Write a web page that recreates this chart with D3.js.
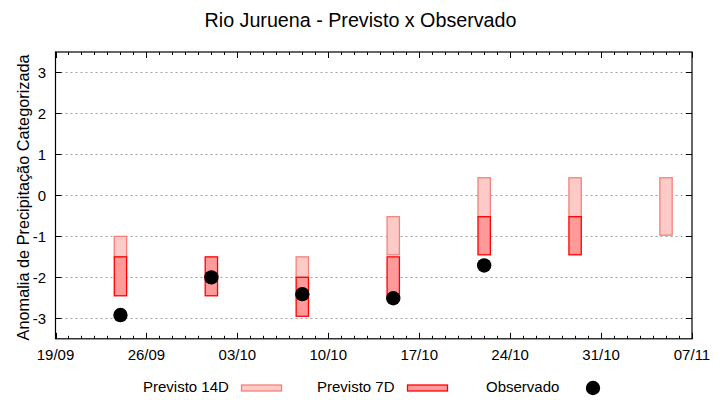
<!DOCTYPE html>
<html>
<head>
<meta charset="utf-8">
<script src="https://cdn.jsdelivr.net/npm/d3@7.9.0/dist/d3.min.js"></script>
<style>
  body { margin: 0; background: #fff; }
  svg { font-family: "Liberation Sans", Arial, sans-serif; }
</style>
</head>
<body>
<svg id="chart" width="720" height="400"></svg>
<script>
// dados
const dates = ['2023-09-24', '2023-10-01', '2023-10-08', '2023-10-15', '2023-10-22', '2023-10-29', '2023-11-05'];
const prev14Top = [-1.0, null, -1.5, -0.52, 0.43, 0.43, 0.43];
const prev14Bottom = [-1.5, null, -2.0, -1.45, -0.52, -0.52, -0.97];
const prev7Top = [-1.5, -1.5, -2.0, -1.5, -0.52, -0.52, null];
const prev7Bottom = [-2.45, -2.45, -2.95, -2.45, -1.45, -1.45, null];
const observado = [-2.92, -2.0, -2.41, -2.51, -1.71, null, null];
const yTicks = [-3, -2, -1, 0, 1, 2, 3];
const xTickDates = ['2023-09-19', '2023-09-26', '2023-10-03', '2023-10-10', '2023-10-17', '2023-10-24', '2023-10-31', '2023-11-07'];

const parse = d3.utcParse('%Y-%m-%d');
const fmt = d3.utcFormat('%d/%m');

const svg = d3.select('#chart');
const pLeft = 55.5, pRight = 692, pTop = 52, pBottom = 338.8;

const x = d3.scaleUtc()
  .domain([parse(xTickDates[0]), parse(xTickDates[xTickDates.length - 1])])
  .range([pLeft, pRight]);
const y = d3.scaleLinear().domain([-3.5, 3.5]).range([pBottom, pTop]);

const dayW = x(d3.utcDay.offset(parse(dates[0]), 1)) - x(parse(dates[0]));
const boxW = dayW * 0.95;

// grade
svg.append('g').selectAll('line').data(yTicks).join('line')
  .attr('x1', pLeft).attr('x2', pRight)
  .attr('y1', d => Math.round(y(d)) + 0.5).attr('y2', d => Math.round(y(d)) + 0.5)
  .attr('stroke', '#a0a0a0').attr('stroke-dasharray', '2,3');

// caixas 14D
dates.forEach((d, i) => {
  if (prev14Top[i] === null) return;
  svg.append('rect')
    .attr('x', x(parse(d)) - boxW / 2)
    .attr('y', y(prev14Top[i]))
    .attr('width', boxW)
    .attr('height', y(prev14Bottom[i]) - y(prev14Top[i]))
    .attr('fill', '#fdcbc7').attr('stroke', '#f5817a').attr('stroke-width', 1.3);
});

// caixas 7D
dates.forEach((d, i) => {
  if (prev7Top[i] === null) return;
  svg.append('rect')
    .attr('x', x(parse(d)) - boxW / 2)
    .attr('y', y(prev7Top[i]))
    .attr('width', boxW)
    .attr('height', y(prev7Bottom[i]) - y(prev7Top[i]))
    .attr('fill', '#ff9a9a').attr('stroke', '#ff0000').attr('stroke-width', 1.3);
});

// observado
dates.forEach((d, i) => {
  if (observado[i] === null) return;
  svg.append('circle')
    .attr('cx', x(parse(d))).attr('cy', y(observado[i]))
    .attr('r', 7.2).attr('fill', '#000');
});

// eixos
const days = d3.utcDay.range(x.domain()[0], d3.utcDay.offset(x.domain()[1], 1));
const majors = xTickDates.map(parse);
const isMajor = t => majors.some(m => +m === +t);

const axes = svg.append('g').attr('stroke', '#000').attr('stroke-width', 1);
days.forEach(t => {
  const len = isMajor(t) ? 6 : 3;
  const xx = Math.round(x(t)) + 0.5;
  axes.append('line').attr('x1', xx).attr('x2', xx).attr('y1', pBottom).attr('y2', pBottom - len);
  axes.append('line').attr('x1', xx).attr('x2', xx).attr('y1', pTop).attr('y2', pTop + len);
});
yTicks.forEach(v => {
  const yy = Math.round(y(v)) + 0.5;
  axes.append('line').attr('x1', pLeft).attr('x2', pLeft + 6).attr('y1', yy).attr('y2', yy);
  axes.append('line').attr('x1', pRight).attr('x2', pRight - 6).attr('y1', yy).attr('y2', yy);
});
svg.append('rect')
  .attr('x', pLeft).attr('y', pTop).attr('width', pRight - pLeft).attr('height', pBottom - pTop)
  .attr('fill', 'none').attr('stroke', '#000').attr('stroke-width', 1.2);

svg.append('g').selectAll('text').data(majors).join('text')
  .attr('x', d => x(d)).attr('y', 360)
  .attr('text-anchor', 'middle').attr('font-size', 15)
  .text(d => fmt(d));

svg.append('g').selectAll('text').data(yTicks).join('text')
  .attr('x', 46).attr('y', d => y(d) + 5.5)
  .attr('text-anchor', 'end').attr('font-size', 15)
  .text(d => d);

svg.append('text')
  .attr('transform', 'translate(28.5,' + ((pTop + pBottom) / 2 + 2) + ') rotate(-90)')
  .attr('text-anchor', 'middle').attr('font-size', 16.3)
  .text('Anomalia de Precipitação Categorizada');

svg.append('text')
  .attr('x', 360.5).attr('y', 27)
  .attr('text-anchor', 'middle').attr('font-size', 19.7)
  .text('Rio Juruena - Previsto x Observado');

// legenda
const leg = svg.append('g');
leg.append('text').attr('x', 143).attr('y', 391.5).attr('font-size', 15).text('Previsto 14D');
leg.append('rect').attr('x', 241.5).attr('y', 385).attr('width', 40).attr('height', 6)
  .attr('fill', '#fdcbc7').attr('stroke', '#f5817a').attr('stroke-width', 1.3);
leg.append('text').attr('x', 317).attr('y', 391.5).attr('font-size', 15).text('Previsto 7D');
leg.append('rect').attr('x', 407.5).attr('y', 385).attr('width', 40).attr('height', 6)
  .attr('fill', '#ff9a9a').attr('stroke', '#ff0000').attr('stroke-width', 1.3);
leg.append('text').attr('x', 486).attr('y', 391.5).attr('font-size', 15).text('Observado');
leg.append('circle').attr('cx', 593).attr('cy', 388).attr('r', 7.2).attr('fill', '#000');
</script>
</body>
</html>
